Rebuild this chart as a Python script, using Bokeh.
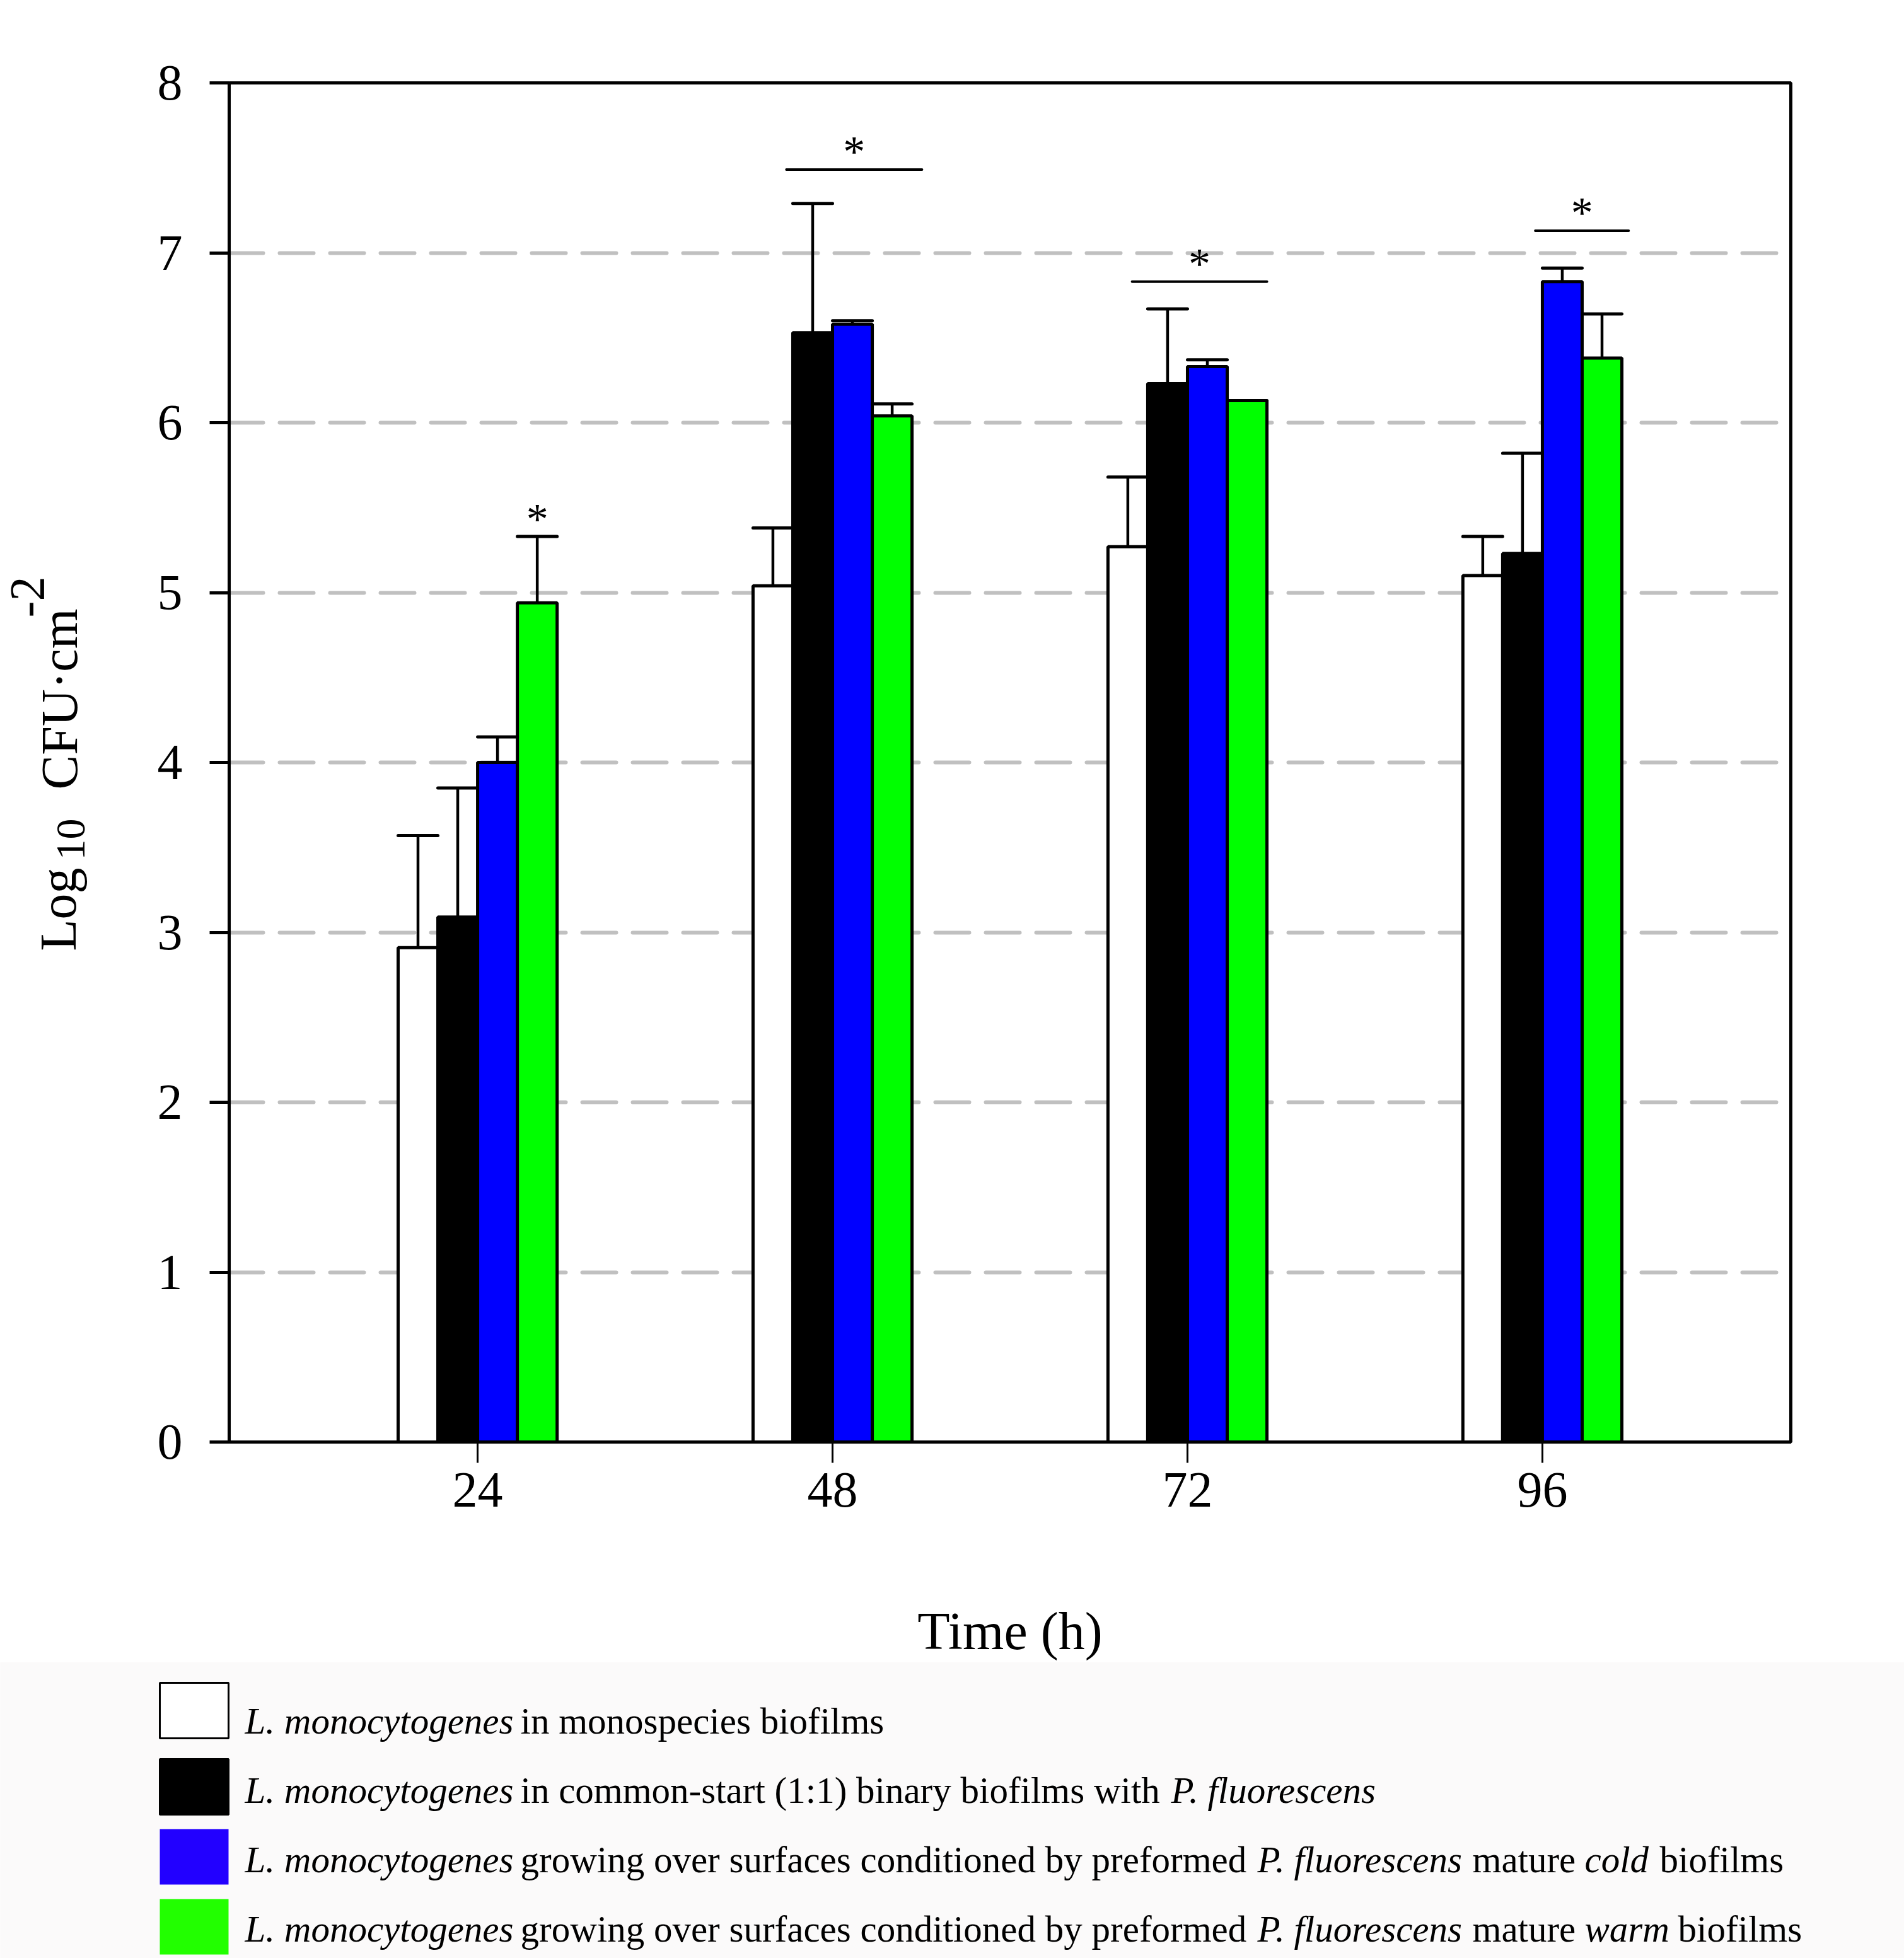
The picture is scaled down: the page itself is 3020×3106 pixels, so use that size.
import math
from bokeh.plotting import figure
from bokeh.layouts import row
from bokeh.models import Range1d, FixedTicker
from bokeh.core.properties import value
from bokeh.embed import file_html
from bokeh.resources import INLINE

# ---------------- data ----------------
times = ["24", "48", "72", "96"]
mono = [2.91, 5.04, 5.27, 5.10]
mono_sd = [0.66, 0.34, 0.41, 0.23]
binary = [3.09, 6.53, 6.23, 5.23]
binary_sd = [0.76, 0.76, 0.44, 0.59]
cold = [4.00, 6.58, 6.33, 6.83]
cold_sd = [0.15, 0.02, 0.04, 0.08]
warm = [4.94, 6.04, 6.13, 6.38]
warm_sd = [0.39, 0.07, 0.00, 0.26]

# significance bars (x in group-position units, y in log10 CFU)
sig_x0 = [1.870, 2.844, 3.980]
sig_x1 = [2.252, 3.224, 4.243]
sig_y = [7.49, 6.83, 7.13]

y_ticks = [0, 1, 2, 3, 4, 5, 6, 7, 8]

legend_segments = [
    [("L. monocytogenes", "italic", 388), ("in monospecies biofilms", "normal", 825)],
    [("L. monocytogenes", "italic", 388), ("in common-start (1:1) binary biofilms with", "normal", 825),
     ("P. fluorescens", "italic", 1857)],
    [("L. monocytogenes", "italic", 388), ("growing over surfaces conditioned by preformed", "normal", 825),
     ("P. fluorescens", "italic", 1994), ("mature", "normal", 2335), ("cold", "italic", 2513),
     ("biofilms", "normal", 2632)],
    [("L. monocytogenes", "italic", 388), ("growing over surfaces conditioned by preformed", "normal", 825),
     ("P. fluorescens", "italic", 1994), ("mature", "normal", 2335), ("warm", "italic", 2513),
     ("biofilms", "normal", 2661)],
]

FONT = "Liberation Serif"
bar_colors = ["white", "black", "#0000ff", "#00ff00"]
legend_colors = ["white", "black", "#2200ff", "#22ff00"]
series = [(mono, mono_sd), (binary, binary_sd), (cold, cold_sd), (warm, warm_sd)]

# ---------------- layout constants ----------------
YLW = 200                   # width of the y-label strip
FL, FR, FT, FB = 163, 180, 131, 349
FW, FH = 2477, 2156
MAIN_H = FT + FH + FB
X0, X1 = 0.3, 4.7
Y0, Y1 = 0.0, 8.0
bw = 0.112
offsets = [-1.5 * bw, -0.5 * bw, 0.5 * bw, 1.5 * bw]
MID = 0.34                  # distance (em) from the alphabetic baseline to the text middle

p = figure(frame_width=FW, frame_height=FH,
           min_border_left=FL, min_border_right=FR, min_border_top=FT, min_border_bottom=FB,
           x_range=Range1d(X0, X1), y_range=Range1d(Y0, Y1),
           output_backend="svg", toolbar_location=None, tools="")
p.background_fill_color = "white"
p.border_fill_color = "white"
p.outline_line_color = "black"
p.outline_line_width = 5

# axes
p.xaxis.ticker = FixedTicker(ticks=[i + 1 for i in range(len(times))])
p.xaxis.major_label_overrides = {i + 1: t for i, t in enumerate(times)}
p.yaxis.ticker = FixedTicker(ticks=y_ticks)
for ax in (p.xaxis, p.yaxis):
    ax.axis_line_width = 5
    ax.axis_line_color = "black"
    ax.minor_tick_line_color = None
    ax.major_tick_in = 0
    ax.major_tick_line_color = "black"
    ax.major_label_text_font = FONT
    ax.major_label_text_color = "black"
    ax.major_label_text_font_size = "80px"
p.yaxis.major_tick_out = 31
p.yaxis.major_tick_line_width = 5
p.yaxis.major_label_standoff = 43
p.xaxis.major_tick_out = 33
p.xaxis.major_tick_line_width = 3
p.xaxis.major_label_standoff = 16
p.xaxis.axis_label = "Time (h)"
p.xaxis.axis_label_text_font = FONT
p.xaxis.axis_label_text_font_style = "normal"
p.xaxis.axis_label_text_font_size = "84px"
p.xaxis.axis_label_text_color = "black"
p.xaxis.axis_label_standoff = 148

p.xgrid.visible = False
p.ygrid.grid_line_color = "#c0c0c0"
p.ygrid.grid_line_width = 6
p.ygrid.grid_line_dash = "54 26"
p.ygrid.grid_line_cap = "round"

# bars
for k, ((vals, sds), color) in enumerate(zip(series, bar_colors)):
    xs = [i + 1 + offsets[k] for i in range(len(vals))]
    p.vbar(x=xs, top=vals, bottom=0, width=bw, fill_color=color,
           line_color="black", line_width=5)

# error bars (upper only)
for k, (vals, sds) in enumerate(series):
    xs = [i + 1 + offsets[k] for i in range(len(vals))]
    ups = [v + s for v, s in zip(vals, sds)]
    p.segment(x0=xs, y0=vals, x1=xs, y1=ups, line_color="black", line_width=4.5)
    p.segment(x0=[x - bw / 2 for x in xs], y0=ups, x1=[x + bw / 2 for x in xs], y1=ups,
              line_color="black", line_width=5, line_cap="round")

# significance lines and asterisks
p.segment(x0=sig_x0, y0=sig_y, x1=sig_x1, y1=sig_y, line_color="black", line_width=4, line_cap="round")
p.text(x=[(a + b) / 2 for a, b in zip(sig_x0, sig_x1)], y=sig_y, text=["*"] * len(sig_y),
       text_font=value(FONT), text_font_size="70px", text_align="center",
       text_baseline="middle", y_offset=-28, text_color="black")
# lone asterisk above the warm bar at 24 h
p.text(x=[1 + offsets[3]], y=[warm[0] + warm_sd[0]], text=["*"],
       text_font=value(FONT), text_font_size="70px", text_align="center",
       text_baseline="middle", y_offset=-28, text_color="black")

# ---------------- y-axis label strip ----------------
yl = figure(width=YLW, height=MAIN_H, x_range=Range1d(0, YLW), y_range=Range1d(FT + FH, FT),
            output_backend="svg", toolbar_location=None, tools="",
            x_axis_location=None, y_axis_location=None,
            min_border_left=0, min_border_right=0, min_border_top=FT, min_border_bottom=FB)
yl.background_fill_color = "white"
yl.border_fill_color = "white"
yl.outline_line_color = None
yl.grid.visible = False
# (text, baseline x, start y, font size px)
ylab = [("Log", 120, 1508, 82), ("10", 134, 1364, 66),
        ("CFU·cm", 122, 1252, 82), ("-2", 70, 979, 78)]
for txt, px, py, fs in ylab:
    yl.text(x=[px - MID * fs], y=[py], text=[txt], angle=math.pi / 2,
            text_font=value(FONT), text_font_size=f"{fs}px", text_align="left",
            text_baseline="middle", text_color="black")

# ---------------- legend figure ----------------
LW = YLW + FL + FW + FR
LH = 3106 - MAIN_H
q = figure(width=LW, height=LH, x_range=Range1d(0, LW), y_range=Range1d(MAIN_H + LH, MAIN_H),
           output_backend="svg", toolbar_location=None, tools="",
           x_axis_location=None, y_axis_location=None,
           min_border_left=0, min_border_right=0, min_border_top=0, min_border_bottom=0)
q.background_fill_color = "#fbfafa"
q.border_fill_color = "#fbfafa"
q.outline_line_color = None
q.grid.visible = False

box_tops = [2669, 2790, 2901, 3012]
box_h = 88
q.quad(left=[253] * 4, right=[362] * 4, top=box_tops, bottom=[t + box_h for t in box_tops],
       fill_color=legend_colors, line_color=["black", "black", None, None], line_width=3)

LFS = 59
baselines = [2750, 2860, 2970, 3080]
for segs, yb in zip(legend_segments, baselines):
    for style in ("italic", "normal"):
        sel = [(t, x) for t, s, x in segs if s == style]
        if not sel:
            continue
        q.text(x=[x for _, x in sel], y=[yb - MID * LFS] * len(sel), text=[t for t, _ in sel],
               text_font=value(FONT), text_font_size=f"{LFS}px", text_font_style=style,
               text_align="left", text_baseline="middle", text_color="black")

top = row(yl, p, spacing=0)
open("out.html", "w").write(file_html([top, q], INLINE))
